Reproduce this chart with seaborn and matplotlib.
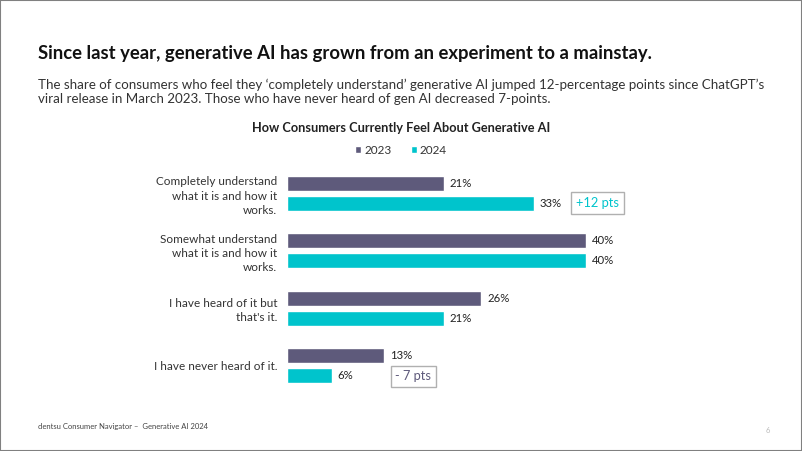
import matplotlib
matplotlib.use("Agg")
from matplotlib import pyplot as plt
import seaborn as sns
import pandas as pd

categories = [
    "Completely understand\nwhat it is and how it\nworks.",
    "Somewhat understand\nwhat it is and how it\nworks.",
    "I have heard of it but\nthat's it.",
    "I have never heard of it.",
]
years = ["2023", "2024"]
values_2023 = [21, 40, 26, 13]
values_2024 = [33, 40, 21, 6]

colors = {"2023": "#5e5a7b", "2024": "#00c4cc"}

df = pd.DataFrame({
    "category": categories * 2,
    "year": [years[0]] * 4 + [years[1]] * 4,
    "share": values_2023 + values_2024,
})

sns.set_style("white")
plt.rcParams["font.family"] = ["Lato", "DejaVu Sans"]

fig = plt.figure(figsize=(8.02, 4.51), dpi=100)
ax = fig.add_axes([0.3579, 0.1259, 0.4662, 0.5087])

sns.barplot(data=df, y="category", x="share", hue="year", palette=colors,
            orient="h", width=0.7, gap=0.25, saturation=1, ax=ax)

for cont in ax.containers:
    ax.bar_label(cont, fmt="%d%%", padding=4, fontsize=8.2, color="#222222")

ax.set_xlim(0, 50)
ax.set_xlabel("")
ax.set_ylabel("")
ax.set_xticks([])
ax.tick_params(axis="y", length=0, pad=7, labelsize=8.5, labelcolor="#333333")
for lab in ax.get_yticklabels():
    lab.set_horizontalalignment("right")
    lab.set_linespacing(1.35)
sns.despine(ax=ax, left=True, bottom=True)

sns.move_legend(ax, "center", bbox_to_anchor=(0.5, 0.667), bbox_transform=fig.transFigure,
                ncol=2, frameon=False, title=None, handlelength=0.55, handleheight=0.55,
                handletextpad=0.25, columnspacing=1.6, fontsize=8.5)
for t in ax.get_legend().get_texts():
    t.set_color("#333333")

# change call-outs
ax.text(41.5, 0.16, "+12 pts", ha="center", va="center", fontsize=9.3, color="#00c4cc",
        bbox=dict(boxstyle="square,pad=0.38", fc="white", ec="#b0b0b0", lw=1))
ax.text(16.9, 3.19, "- 7 pts", ha="center", va="center", fontsize=9.3, color="#5e5a7b",
        bbox=dict(boxstyle="square,pad=0.38", fc="white", ec="#b0b0b0", lw=1))

fig.text(0.047, 0.882, "Since last year, generative AI has grown from an experiment to a mainstay.",
         fontsize=13.3, fontweight="bold", color="#111111", va="center")
fig.text(0.047, 0.797,
         "The share of consumers who feel they \u2018completely understand\u2019 generative AI jumped 12-percentage points since ChatGPT\u2019s\n"
         "viral release in March 2023. Those who have never heard of gen AI decreased 7-points.",
         fontsize=9.6, color="#333333", va="center", linespacing=1.25)
fig.text(0.5, 0.716, "How Consumers Currently Feel About Generative AI", ha="center", va="center",
         fontsize=9.2, fontweight="bold", color="#222222")
fig.text(0.047, 0.055, "dentsu Consumer Navigator \u2013  Generative AI 2024", fontsize=5.5,
         color="#444444", va="center")
fig.text(0.955, 0.045, "6", fontsize=5.5, color="#bbbbbb", va="center")

fig.patches.append(plt.Rectangle((0, 0), 1, 1, transform=fig.transFigure, fill=False,
                                 ec="#808080", lw=1.5))

fig.savefig("out.png", dpi=100)
